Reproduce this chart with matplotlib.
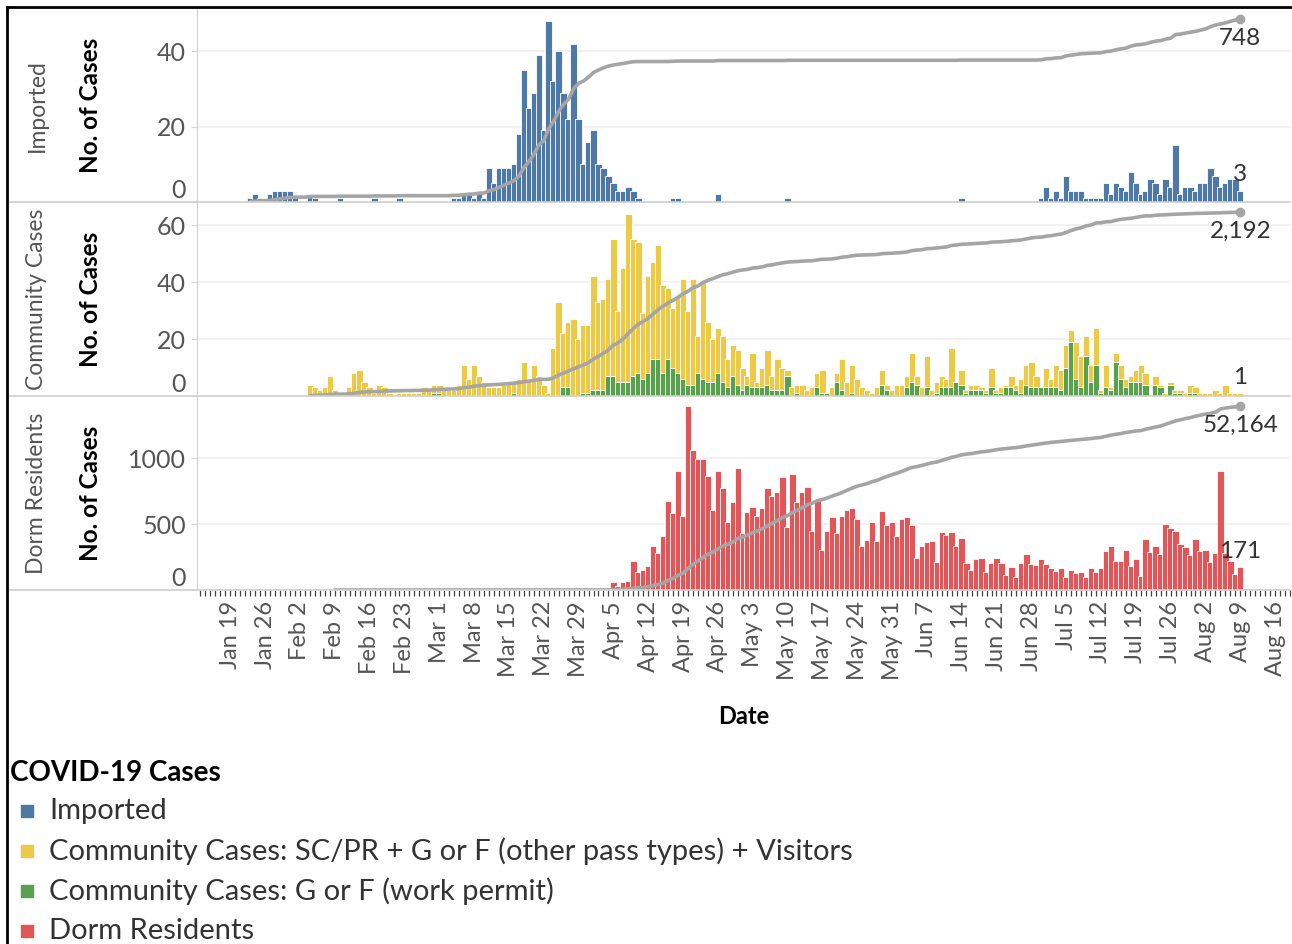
import datetime as dt

import matplotlib
matplotlib.use("Agg")
import matplotlib.dates as mdates
import matplotlib.pyplot as plt
import numpy as np
from matplotlib.lines import Line2D
from matplotlib.patches import Rectangle

plt.rcParams["font.family"] = ["Lato", "DejaVu Sans"]

# daily new cases
imported_start = dt.date(2020, 1, 23)
imported = [
    1, 2, 1, 1, 2, 3, 3, 3, 3, 1,
    0, 0, 2, 1, 0, 0, 0, 0, 1, 0,
    0, 0, 0, 0, 0, 1, 0, 0, 0, 0,
    1, 0, 0, 0, 0, 0, 0, 0, 0, 0,
    0, 1, 1, 2, 2, 1, 3, 1, 9, 5,
    9, 9, 9, 10, 18, 35, 25, 29, 39, 19,
    48, 32, 40, 29, 22, 42, 22, 10, 16, 19,
    10, 9, 7, 5, 3, 3, 4, 3, 1, 0,
    0, 0, 0, 0, 0, 1, 1, 0, 0, 0,
    0, 0, 0, 0, 2, 0, 0, 0, 0, 0,
    0, 0, 0, 0, 0, 0, 0, 0, 1, 0,
    0, 0, 0, 0, 0, 0, 0, 0, 0, 0,
    0, 0, 0, 0, 0, 0, 0, 0, 0, 0,
    0, 0, 0, 0, 0, 0, 0, 0, 0, 0,
    0, 0, 0, 1, 0, 0, 0, 0, 0, 0,
    0, 0, 0, 0, 0, 0, 0, 0, 0, 1,
    4, 1, 3, 1, 7, 3, 3, 3, 1, 1,
    1, 1, 5, 2, 5, 4, 3, 8, 5, 2,
    3, 6, 5, 2, 6, 4, 15, 2, 4, 4,
    3, 5, 5, 9, 7, 4, 5, 6, 6, 3,
]

community_start = dt.date(2020, 2, 4)
community_total = [
    4, 3, 2, 3, 7, 2, 1, 0, 3, 8, 9, 5, 3, 1, 4, 3, 1, 0,
    1, 1, 1, 1, 1, 3, 2, 4, 4, 2, 2,
    2, 4, 11, 6, 11, 7, 5, 3, 3, 3, 4, 5, 5, 6, 12, 5, 11, 7, 4, 1,
    17, 33, 22, 26, 27, 20, 25, 25, 42, 33, 34, 41, 55, 30, 45, 64, 55, 54, 29, 42, 47, 53,
    39, 38, 31, 35, 41, 30, 41, 21, 40, 26,
    20, 24, 21, 13, 18, 16, 10, 7, 15, 5,
    10, 16, 7, 13, 10, 9, 3, 4, 4, 2,
    3, 8, 9, 1, 3, 8, 13, 5, 11, 6,
    3, 2, 1, 3, 9, 4, 2, 4, 4, 7,
    15, 7, 3, 14, 2, 5, 7, 6, 17, 5,
    9, 2, 4, 4,
    3, 2, 10, 2, 3, 4, 7, 4, 6, 11,
    12, 7, 3, 10, 6, 11, 9, 18, 23, 19,
    14, 21, 11, 24, 2, 11, 3, 15, 11, 6,
    7, 9, 11, 8, 0, 7, 4, 1, 5, 2,
    2, 1, 4, 3, 1, 1, 1, 2, 1, 4,
    1, 1, 1,
]
community_wp = [
    0, 0, 0, 0, 0, 0, 0, 0, 0, 0, 0, 0, 0, 0, 0, 0, 0, 0,
    0, 0, 0, 0, 0, 0, 0, 1, 1, 0, 0,
    0, 0, 0, 0, 0, 0, 0, 0, 0, 0, 0, 0, 1, 0, 0, 0, 0, 0, 0, 0,
    0, 0, 3, 3, 0, 0, 1, 1, 2, 2, 2, 7, 7, 5, 5, 5, 7, 8, 6, 8, 13, 13,
    8, 13, 10, 8, 6, 4, 4, 8, 6, 5,
    5, 8, 5, 3, 7, 4, 2, 4, 3, 3,
    3, 4, 2, 2, 2, 7, 0, 1, 0, 0,
    0, 3, 1, 1, 0, 5, 2, 0, 1, 0,
    0, 0, 0, 0, 4, 2, 0, 0, 0, 3,
    5, 4, 0, 3, 0, 1, 3, 3, 3, 5,
    4, 1, 2, 2,
    2, 1, 3, 1, 1, 3, 3, 2, 1, 4,
    3, 3, 3, 3, 3, 3, 2, 10, 19, 6,
    3, 14, 5, 11, 1, 3, 2, 12, 6, 3,
    5, 5, 5, 4, 0, 4, 3, 0, 4, 1,
    1, 0, 1, 1, 0, 0, 0, 0, 0, 0,
    0, 0, 0,
]

dorm_start = dt.date(2020, 2, 9)
dorm = [
    0, 0, 0, 0, 0, 0, 0, 0, 0, 0, 0, 0, 0, 0, 0, 0, 0, 0, 0, 0,
    0, 0, 0, 0, 0, 0, 0, 0, 0, 0, 0, 0, 0, 0, 0, 0, 0, 0, 0, 0,
    0, 0, 0, 0, 0, 0, 0, 0, 0, 0, 0, 0, 0, 0, 0,
    18, 58, 33, 58, 68, 222, 139, 152, 182, 333, 283, 409, 677, 586, 904, 560, 1396,
    1060, 990, 990, 866, 606, 904, 775, 513, 669, 922, 429, 590,
    631, 563, 619, 770, 715, 745, 859, 480, 876, 669, 745, 783, 449, 674, 303, 449, 556, 434, 560,
    606, 624, 538, 336, 379, 518, 371, 598, 492, 513, 412, 538, 556, 492, 245, 333, 366,
    374, 215, 437, 417, 437, 333, 391, 207, 152, 232, 240, 139, 207, 240, 207, 114,
    177, 101, 207, 270, 194, 189, 232, 194, 169, 144, 169, 101, 152, 126, 134, 101,
    169, 139, 169, 295, 333, 222, 222, 303, 182, 232, 106, 384, 290, 333, 273, 500,
    467, 447, 348, 323, 265, 384, 295, 303, 210, 278, 904, 278, 222, 121, 171,
]

panel_names = ["Imported", "Community Cases", "Dorm Residents"]
panel_ticks = [[0, 20, 40], [0, 20, 40, 60], [0, 500, 1000]]
panel_ylim = [51.2, 68.1, 1470]
total_labels = ["748", "2,192", "52,164"]

legend_labels = [
    "Imported",
    "Community Cases: SC/PR + G or F (other pass types) + Visitors",
    "Community Cases: G or F (work permit)",
    "Dorm Residents",
]
BLUE, YELLOW, GREEN, RED = "#4e79a7", "#edc948", "#59a14f", "#e15759"
legend_colors = [BLUE, YELLOW, GREEN, RED]
LINE = "#a5a5a5"
SEP = "#d0d0d0"

W, H = 1292, 944
fig = plt.figure(figsize=(W / 100, H / 100), dpi=100)


def fx(px):
    return px / W


def fy(py):
    return 1 - py / H


panel_px = [(9, 202), (202, 396), (396, 590)]
axes = []
for top, bot in panel_px:
    axes.append(fig.add_axes([fx(197), fy(bot), fx(1290) - fx(197), (bot - top) / H]))

x_lo = mdates.date2num(imported_start) - 10.7
x_hi = mdates.date2num(imported_start) + 209.0


def days(start, n):
    return mdates.date2num(start) + np.arange(n)


x_imp = days(imported_start, len(imported))
x_com = days(community_start, len(community_total))
x_dorm = days(dorm_start, len(dorm))
wp = np.array(community_wp)
other = np.array(community_total) - wp

bar_kw = dict(width=1.3, edgecolor="white", linewidth=0.6, align="center")
axes[0].bar(x_imp, imported, color=BLUE, **bar_kw)
for xi, g, o in zip(x_com, wp, other):
    axes[1].bar(xi, g, color=GREEN, **bar_kw)
    axes[1].bar(xi, o, bottom=g, color=YELLOW, **bar_kw)
axes[2].bar(x_dorm, dorm, color=RED, **bar_kw)

series = [(x_imp, np.array(imported)), (x_com, np.array(community_total)),
          (x_dorm, np.array(dorm))]

for k, ax in enumerate(axes):
    xs, vals = series[k]
    ax.set_xlim(x_lo, x_hi)
    ax.set_ylim(0, panel_ylim[k])
    ax.set_yticks(panel_ticks[k])
    ax.grid(axis="y", color="#f0f0f0", linewidth=1.2)
    ax.set_axisbelow(True)
    for side in ["top", "right", "bottom"]:
        ax.spines[side].set_visible(False)
    ax.spines["left"].set_color(SEP)
    ax.tick_params(axis="y", length=4, color="#d8d8d8", pad=4,
                   labelsize=18, labelcolor="#555555")
    ax.get_yticklabels()[0].set_verticalalignment("bottom")
    ax.set_facecolor("none")

    cum = np.cumsum(vals)
    tw = ax.twinx()
    tw.set_ylim(0, cum[-1] / 0.947)
    tw.axis("off")
    tw.plot(xs, cum, color=LINE, linewidth=2.6, solid_capstyle="round")
    tw.plot(xs[-1], cum[-1], "o", color=LINE, markersize=6)
    tw.annotate(total_labels[k], (xs[-1], cum[-1]), xytext=(0, -6),
                textcoords="offset points", ha="center", va="top",
                fontsize=17.5, color="#333333")
    ax.annotate(f"{vals[-1]:,}", (xs[-1], vals[-1]), xytext=(0, 4),
                textcoords="offset points", ha="center", va="bottom",
                fontsize=17.5, color="#333333")

    top, bot = panel_px[k]
    mid = 1 - (top + bot) / 2 / H
    fig.text(fx(37), mid, panel_names[k], rotation=90, ha="center", va="center",
             fontsize=16.5, color="#555555")
    fig.text(fx(90), mid, "No. of Cases", rotation=90, ha="center", va="center",
             fontsize=17.5, fontweight="bold", color="black")

for ax in axes[:2]:
    ax.tick_params(axis="x", bottom=False, labelbottom=False)

bx = axes[2]
bx.xaxis.set_major_locator(mdates.WeekdayLocator(byweekday=mdates.SU))
bx.xaxis.set_minor_locator(mdates.DayLocator())
bx.xaxis.set_major_formatter(
    plt.FuncFormatter(lambda v, p: f"{mdates.num2date(v):%b} {mdates.num2date(v).day}"))
bx.tick_params(axis="x", which="both", length=4, width=0.9, color="#444444")
bx.tick_params(axis="x", which="major", pad=4, labelsize=17, labelcolor="#555555",
               labelrotation=90)
for lab in bx.get_xticklabels():
    lab.set_verticalalignment("top")
bx.set_xlabel("Date", fontsize=17, fontweight="bold", labelpad=18)

# separators and screenshot frame
for py in [202, 396, 590]:
    fig.add_artist(Line2D([fx(8), fx(1290)], [fy(py), fy(py)], color=SEP, linewidth=1.2))
fig.add_artist(Line2D([fx(7), fx(7)], [fy(7), 0], color="black", linewidth=2))
fig.add_artist(Line2D([fx(7), 1], [fy(7), fy(7)], color="black", linewidth=2))

# legend
fig.text(fx(10), fy(773), "COVID-19 Cases", ha="left", va="center",
         fontsize=20, fontweight="bold", color="black")
for j, (lab, col) in enumerate(zip(legend_labels, legend_colors)):
    yc = 811 + 40 * j
    fig.add_artist(Rectangle((fx(21), fy(yc + 6)), 12 / W, 12 / H,
                             color=col, transform=fig.transFigure))
    fig.text(fx(49), fy(yc), lab, ha="left", va="center", fontsize=21,
             color="#333333")

fig.savefig("out.png", dpi=100, facecolor="white")
